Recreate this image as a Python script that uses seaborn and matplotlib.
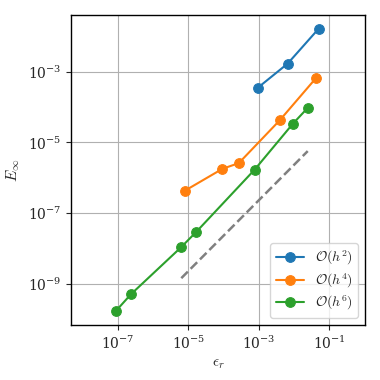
import numpy as np
import pandas as pd
import seaborn as sns
import matplotlib.pyplot as plt
from matplotlib.ticker import FixedLocator, NullLocator, LogFormatterSciNotation

# data
eps_h2 = [9.3e-4, 6.6e-3, 5.0e-2]
err_h2 = [3.5e-4, 1.7e-3, 1.65e-2]

eps_h4 = [7.9e-6, 9.3e-5, 2.7e-4, 3.9e-3, 4.3e-2]
err_h4 = [4.3e-7, 1.8e-6, 2.6e-6, 4.2e-5, 6.8e-4]

eps_h6 = [8.7e-8, 2.35e-7, 6.3e-6, 1.7e-5, 7.6e-4, 9.3e-3, 2.45e-2]
err_h6 = [1.7e-10, 5.1e-10, 1.1e-8, 3.0e-8, 1.7e-6, 3.4e-5, 9.5e-5]

ref_eps = [6.3e-6, 2.45e-2]
ref_err = [1.45e-9, 5.7e-6]

labels = [r'$\mathcal{O}(h^2)$', r'$\mathcal{O}(h^4)$', r'$\mathcal{O}(h^6)$']

sns.set_style('ticks')
plt.rcParams['mathtext.fontset'] = 'cm'
plt.rcParams['font.family'] = ['DejaVu Serif']

colors = sns.color_palette('tab10', 3)

fig, ax = plt.subplots(figsize=(3.8, 3.8), dpi=100)
fig.subplots_adjust(left=0.187, right=0.961, bottom=0.145, top=0.961)

for xs, ys, lab, c in zip([eps_h2, eps_h4, eps_h6], [err_h2, err_h4, err_h6], labels, colors):
    sns.lineplot(x=xs, y=ys, ax=ax, color=c, marker='o', markersize=7,
                 markeredgecolor=c, linewidth=1.5, label=lab, sort=False)

sns.lineplot(x=ref_eps, y=ref_err, ax=ax, color='gray', linestyle='--', linewidth=1.8)

ax.set_xscale('log')
ax.set_yscale('log')
ax.set_xlim(10**-8.33, 10**0.02)
ax.set_ylim(10**-10.16, 10**-1.39)

ax.xaxis.set_major_locator(FixedLocator([1e-7, 1e-5, 1e-3, 1e-1]))
ax.yaxis.set_major_locator(FixedLocator([1e-9, 1e-7, 1e-5, 1e-3]))
ax.xaxis.set_major_formatter(LogFormatterSciNotation())
ax.yaxis.set_major_formatter(LogFormatterSciNotation())
ax.xaxis.set_minor_locator(NullLocator())
ax.yaxis.set_minor_locator(NullLocator())

ax.grid(True, color='#b0b0b0', linewidth=0.8)
for s in ax.spines.values():
    s.set_linewidth(1.0)
    s.set_color('black')
ax.tick_params(direction='out', length=3.5, width=0.8, labelsize=10)

ax.set_xlabel(r'$\epsilon_r$', fontsize=11)
ax.set_ylabel(r'$E_\infty$', fontsize=11)
ax.legend(loc='lower right', fontsize=10, labelspacing=0.3)

plt.savefig('out.png', dpi=100)
